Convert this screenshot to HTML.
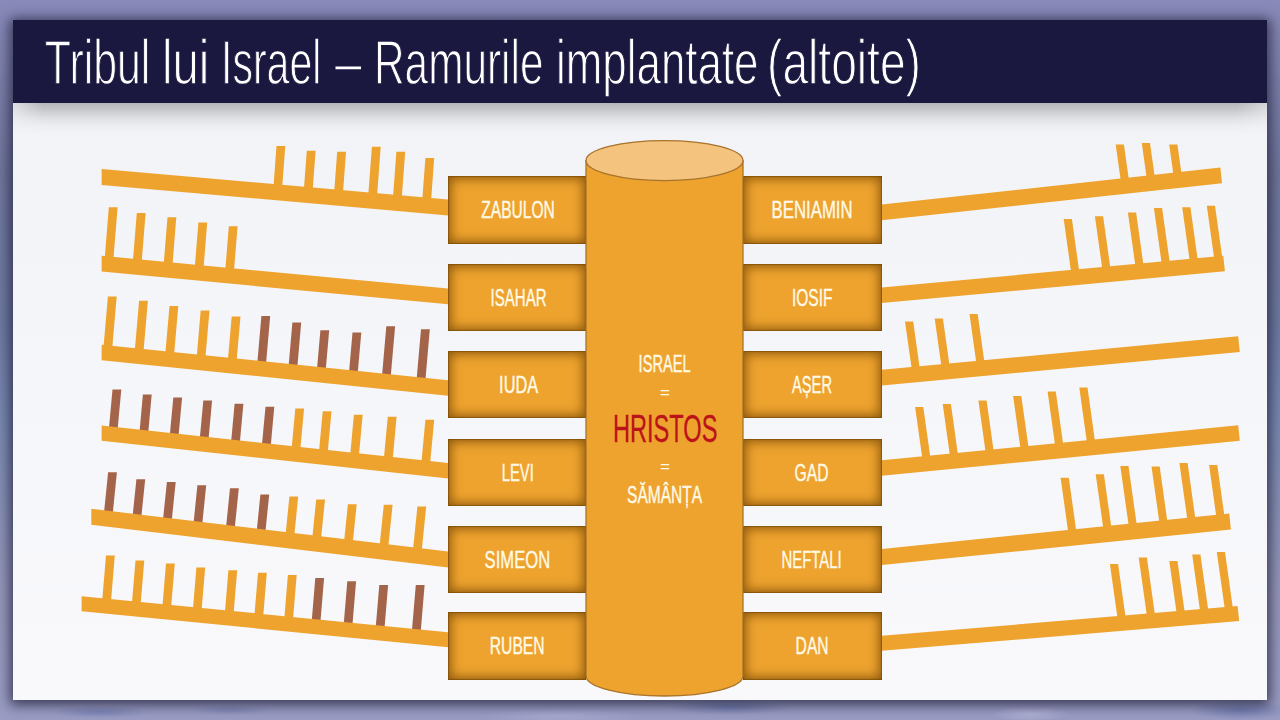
<!DOCTYPE html>
<html><head><meta charset="utf-8">
<style>
html,body{margin:0;padding:0;width:1280px;height:720px;overflow:hidden;background:#8585b0}
#bg{position:absolute;left:0;top:0}
#back{position:absolute;left:0;top:0;width:1280px;height:720px;background:linear-gradient(180deg,#8a8aba 0%,#7a7ea8 12%,#70769c 24%,#6e7aa2 45%,#7888b0 58%,#9597ba 82%,#9a9cc4 100%)}
#clouds{position:absolute;left:0;top:680px;width:1280px;height:40px;background:
radial-gradient(ellipse 50px 6px at 100px 32px, rgba(90,110,170,0.45), rgba(90,110,170,0)),
radial-gradient(ellipse 40px 5px at 230px 30px, rgba(90,110,170,0.35), rgba(90,110,170,0)),
radial-gradient(ellipse 60px 8px at 730px 27px, rgba(80,100,160,0.5), rgba(80,100,160,0)),
radial-gradient(ellipse 50px 10px at 1240px 30px, rgba(80,100,160,0.55), rgba(80,100,160,0)),
radial-gradient(ellipse 40px 8px at 1030px 34px, rgba(200,200,230,0.5), rgba(200,200,230,0)),
radial-gradient(ellipse 80px 8px at 560px 36px, rgba(190,190,225,0.4), rgba(190,190,225,0))}
#panel{position:absolute;left:13px;top:20px;width:1254px;height:680px;background:linear-gradient(180deg,#f1f2f6 0%,#f5f6f9 50%,#f9f9fc 100%);box-shadow:0 2px 12px 3px rgba(25,25,50,0.75)}
.box{position:absolute;background:#eea32e;box-shadow:inset 0 0 11px 3px rgba(108,64,0,0.72), inset 0 0 1px 1px rgba(108,64,0,0.55);}
#fg{position:absolute;left:0;top:0}
text{font-family:"Liberation Sans",sans-serif;}
.bt{font-size:24.6px;fill:#fffae6;text-anchor:middle;stroke:#fffae6;stroke-width:0.4px}
</style></head><body>
<div id="back"></div><div id="clouds"></div><div id="panel"></div>
<svg id="bg" width="1280" height="720" viewBox="0 0 1280 720">
<defs>
<linearGradient id="bgG" x1="0" y1="0" x2="0" y2="1">
<stop offset="0" stop-color="#8888b8"/>
<stop offset="0.5" stop-color="#6f7aa2"/>
<stop offset="1" stop-color="#8e90bc"/>
</linearGradient>
<linearGradient id="panG" x1="0" y1="0" x2="0" y2="1">
<stop offset="0" stop-color="#eff0f5"/>
<stop offset="1" stop-color="#f9f9fc"/>
</linearGradient>
<linearGradient id="tshG" x1="0" y1="0" x2="0" y2="1">
<stop offset="0" stop-color="#000" stop-opacity="0.25"/>
<stop offset="0.25" stop-color="#000" stop-opacity="0.17"/>
<stop offset="0.5" stop-color="#000" stop-opacity="0.08"/>
<stop offset="0.75" stop-color="#000" stop-opacity="0.025"/>
<stop offset="1" stop-color="#000" stop-opacity="0"/>
</linearGradient>
<linearGradient id="cornL" x1="0" y1="0" x2="1" y2="0">
<stop offset="0" stop-color="#f1f2f6" stop-opacity="0.65"/>
<stop offset="1" stop-color="#f1f2f6" stop-opacity="0"/>
</linearGradient>
<linearGradient id="cornR" x1="1" y1="0" x2="0" y2="0">
<stop offset="0" stop-color="#f1f2f6" stop-opacity="0.5"/>
<stop offset="1" stop-color="#f1f2f6" stop-opacity="0"/>
</linearGradient>
<filter id="blur8" x="-10%" y="-10%" width="120%" height="120%"><feGaussianBlur stdDeviation="6"/></filter>
</defs>
<rect x="13" y="103" width="1254" height="30" fill="url(#tshG)"/>
<rect x="13" y="103" width="30" height="30" fill="url(#cornL)"/>
<rect x="1237" y="103" width="30" height="30" fill="url(#cornR)"/>
<rect x="13" y="20" width="1254" height="83" fill="#1b1840"/>
<text x="44.8" y="83.5" textLength="105.6" lengthAdjust="spacingAndGlyphs" style="font-size:63.5px;fill:#ffffff;stroke:#1b1840;stroke-width:1.3px">Tribul</text><text x="162.0" y="83.5" textLength="47.4" lengthAdjust="spacingAndGlyphs" style="font-size:63.5px;fill:#ffffff;stroke:#1b1840;stroke-width:1.3px">lui</text><text x="221.0" y="83.5" textLength="100.4" lengthAdjust="spacingAndGlyphs" style="font-size:63.5px;fill:#ffffff;stroke:#1b1840;stroke-width:1.3px">Israel</text><text x="335.0" y="83.5" textLength="26.5" lengthAdjust="spacingAndGlyphs" style="font-size:63.5px;fill:#ffffff;stroke:#1b1840;stroke-width:1.3px">–</text><text x="374.0" y="83.5" textLength="169.5" lengthAdjust="spacingAndGlyphs" style="font-size:63.5px;fill:#ffffff;stroke:#1b1840;stroke-width:1.3px">Ramurile</text><text x="556.0" y="83.5" textLength="202.5" lengthAdjust="spacingAndGlyphs" style="font-size:63.5px;fill:#ffffff;stroke:#1b1840;stroke-width:1.3px">implantate</text><text x="767.0" y="83.5" textLength="154.0" lengthAdjust="spacingAndGlyphs" style="font-size:63.5px;fill:#ffffff;stroke:#1b1840;stroke-width:1.3px">(altoite)</text>
<polygon points="276.5,145.9 285.3,145.9 282.2,187.1 273.5,186.3" fill="#eea32e"/>
<polygon points="306.8,150.8 315.6,150.8 312.7,189.8 303.9,189.0" fill="#eea32e"/>
<polygon points="337.2,151.7 346.0,151.7 343.0,192.4 334.2,191.7" fill="#eea32e"/>
<polygon points="371.9,146.8 380.7,146.8 377.1,195.5 368.3,194.7" fill="#eea32e"/>
<polygon points="396.4,151.7 405.2,151.7 401.8,197.6 393.0,196.9" fill="#eea32e"/>
<polygon points="425.4,158.0 434.2,158.0 431.1,200.2 422.3,199.4" fill="#eea32e"/>
<polygon points="101.6,169.0 448.0,199.4 448.0,215.4 101.6,185.0" fill="#eea32e"/>
<polygon points="108.8,207.2 117.6,207.2 113.4,259.3 104.7,258.5" fill="#eea32e"/>
<polygon points="136.8,213.0 145.6,213.0 141.7,262.0 132.9,261.1" fill="#eea32e"/>
<polygon points="167.5,217.3 176.3,217.3 172.5,264.9 163.7,264.0" fill="#eea32e"/>
<polygon points="198.4,222.5 207.2,222.5 203.6,267.8 194.8,267.0" fill="#eea32e"/>
<polygon points="228.8,226.3 237.6,226.3 234.0,270.7 225.3,269.8" fill="#eea32e"/>
<polygon points="101.6,255.8 448.0,288.6 448.0,304.3 101.6,271.5" fill="#eea32e"/>
<polygon points="107.9,296.4 116.7,296.4 112.2,348.2 103.5,347.3" fill="#eea32e"/>
<polygon points="139.1,300.7 147.9,300.7 143.5,351.4 134.8,350.5" fill="#eea32e"/>
<polygon points="169.5,305.9 178.3,305.9 174.1,354.6 165.3,353.7" fill="#eea32e"/>
<polygon points="200.7,310.5 209.5,310.5 205.4,357.8 196.7,356.9" fill="#eea32e"/>
<polygon points="231.7,316.6 240.5,316.6 236.6,360.9 227.9,360.0" fill="#eea32e"/>
<polygon points="261.4,316.0 270.2,316.0 266.0,364.0 257.3,363.1" fill="#a4644a"/>
<polygon points="292.4,322.4 301.2,322.4 297.3,367.2 288.6,366.3" fill="#a4644a"/>
<polygon points="320.4,330.2 329.2,330.2 325.7,370.0 317.0,369.1" fill="#a4644a"/>
<polygon points="352.5,332.5 361.3,332.5 357.7,373.3 349.0,372.4" fill="#a4644a"/>
<polygon points="386.3,326.2 395.1,326.2 390.7,376.8 382.0,375.9" fill="#a4644a"/>
<polygon points="421.0,329.3 429.8,329.3 425.4,380.3 416.6,379.4" fill="#a4644a"/>
<polygon points="101.6,344.7 448.0,380.2 448.0,395.7 101.6,360.2" fill="#eea32e"/>
<polygon points="112.5,389.4 121.3,389.4 117.6,429.6 108.9,428.7" fill="#a4644a"/>
<polygon points="142.9,394.6 151.7,394.6 148.2,432.9 139.5,432.0" fill="#a4644a"/>
<polygon points="173.3,397.5 182.1,397.5 178.5,436.2 169.8,435.3" fill="#a4644a"/>
<polygon points="203.3,400.4 212.1,400.4 208.5,439.5 199.8,438.5" fill="#a4644a"/>
<polygon points="234.6,403.8 243.4,403.8 239.8,442.9 231.1,441.9" fill="#a4644a"/>
<polygon points="265.5,406.7 274.3,406.7 270.7,446.2 261.9,445.3" fill="#a4644a"/>
<polygon points="295.3,408.5 304.1,408.5 300.3,449.5 291.6,448.5" fill="#eea32e"/>
<polygon points="322.7,411.3 331.5,411.3 327.7,452.5 319.0,451.5" fill="#eea32e"/>
<polygon points="353.9,414.8 362.7,414.8 358.9,455.8 350.2,454.9" fill="#eea32e"/>
<polygon points="387.8,416.8 396.6,416.8 392.7,459.5 383.9,458.6" fill="#eea32e"/>
<polygon points="425.4,419.7 434.2,419.7 430.1,463.6 421.4,462.6" fill="#eea32e"/>
<polygon points="101.6,425.5 448.0,463.1 448.0,478.4 101.6,440.8" fill="#eea32e"/>
<polygon points="108.1,472.2 116.9,472.2 112.7,513.9 104.0,512.8" fill="#a4644a"/>
<polygon points="136.4,479.2 145.2,479.2 141.3,517.2 132.6,516.2" fill="#a4644a"/>
<polygon points="166.9,481.9 175.7,481.9 171.7,520.9 163.0,519.8" fill="#a4644a"/>
<polygon points="197.4,485.3 206.2,485.3 202.2,524.5 193.5,523.5" fill="#a4644a"/>
<polygon points="230.0,488.3 238.8,488.3 234.7,528.4 226.0,527.4" fill="#a4644a"/>
<polygon points="260.4,494.4 269.2,494.4 265.4,532.0 256.7,531.0" fill="#a4644a"/>
<polygon points="289.4,496.6 298.2,496.6 294.3,535.5 285.6,534.5" fill="#eea32e"/>
<polygon points="316.2,499.6 325.0,499.6 321.0,538.7 312.3,537.7" fill="#eea32e"/>
<polygon points="347.9,504.2 356.7,504.2 352.8,542.5 344.1,541.4" fill="#eea32e"/>
<polygon points="383.8,504.8 392.6,504.8 388.3,546.8 379.6,545.7" fill="#eea32e"/>
<polygon points="417.4,506.6 426.2,506.6 421.7,550.8 413.0,549.7" fill="#eea32e"/>
<polygon points="91.3,508.8 448.0,551.4 448.0,567.4 91.3,524.8" fill="#eea32e"/>
<polygon points="106.0,555.4 114.8,555.4 111.0,601.5 102.2,600.6" fill="#eea32e"/>
<polygon points="135.5,560.5 144.3,560.5 140.6,604.4 131.9,603.5" fill="#eea32e"/>
<polygon points="166.0,563.6 174.8,563.6 171.1,607.4 162.4,606.5" fill="#eea32e"/>
<polygon points="196.4,567.6 205.2,567.6 201.6,610.3 192.9,609.5" fill="#eea32e"/>
<polygon points="228.4,570.3 237.2,570.3 233.6,613.5 224.9,612.6" fill="#eea32e"/>
<polygon points="258.0,572.7 266.8,572.7 263.2,616.4 254.4,615.5" fill="#eea32e"/>
<polygon points="287.9,574.9 296.7,574.9 293.0,619.3 284.3,618.5" fill="#eea32e"/>
<polygon points="315.3,577.9 324.1,577.9 320.4,622.0 311.7,621.2" fill="#a4644a"/>
<polygon points="347.3,581.3 356.1,581.3 352.4,625.2 343.7,624.3" fill="#a4644a"/>
<polygon points="379.3,584.9 388.1,584.9 384.5,628.3 375.7,627.5" fill="#a4644a"/>
<polygon points="415.8,584.9 424.6,584.9 420.7,631.9 411.9,631.0" fill="#a4644a"/>
<polygon points="81.6,596.2 448.0,632.2 448.0,647.2 81.6,611.2" fill="#eea32e"/>
<polygon points="1115.7,144.5 1123.9,144.5 1128.9,180.1 1120.8,181.0" fill="#eea32e"/>
<polygon points="1141.8,143.0 1150.0,143.0 1154.8,177.3 1146.7,178.2" fill="#eea32e"/>
<polygon points="1169.2,144.5 1177.4,144.5 1181.6,174.3 1173.5,175.2" fill="#eea32e"/>
<polygon points="881.6,204.6 1220.4,167.6 1222.0,183.3 881.6,220.3" fill="#eea32e"/>
<polygon points="1063.7,219.0 1071.9,219.0 1079.3,271.9 1071.2,272.7" fill="#eea32e"/>
<polygon points="1094.9,216.2 1103.1,216.2 1110.5,269.0 1102.4,269.7" fill="#eea32e"/>
<polygon points="1127.9,212.4 1136.1,212.4 1143.6,265.9 1135.5,266.7" fill="#eea32e"/>
<polygon points="1153.9,208.1 1162.1,208.1 1169.9,263.5 1161.8,264.3" fill="#eea32e"/>
<polygon points="1182.2,207.2 1190.4,207.2 1197.9,260.9 1189.8,261.6" fill="#eea32e"/>
<polygon points="1206.8,205.7 1215.0,205.7 1222.4,258.6 1214.3,259.3" fill="#eea32e"/>
<polygon points="881.6,287.6 1223.3,255.8 1224.9,271.3 881.6,303.1" fill="#eea32e"/>
<polygon points="905.0,321.4 913.2,321.4 919.8,368.8 911.8,369.6" fill="#eea32e"/>
<polygon points="934.7,318.4 942.9,318.4 949.6,366.0 941.5,366.8" fill="#eea32e"/>
<polygon points="969.5,314.0 977.7,314.0 984.5,362.8 976.4,363.5" fill="#eea32e"/>
<polygon points="881.9,369.8 1238.2,336.2 1239.8,351.9 881.9,385.5" fill="#eea32e"/>
<polygon points="915.1,406.9 923.3,406.9 930.5,458.2 922.4,459.0" fill="#eea32e"/>
<polygon points="942.7,403.9 950.9,403.9 958.1,455.5 950.0,456.3" fill="#eea32e"/>
<polygon points="978.4,400.4 986.6,400.4 993.8,452.0 985.7,452.8" fill="#eea32e"/>
<polygon points="1013.1,395.9 1021.3,395.9 1028.7,448.6 1020.6,449.4" fill="#eea32e"/>
<polygon points="1047.6,391.4 1055.8,391.4 1063.3,445.2 1055.2,446.0" fill="#eea32e"/>
<polygon points="1079.3,387.6 1087.5,387.6 1095.1,442.1 1087.0,442.9" fill="#eea32e"/>
<polygon points="881.9,460.3 1238.2,425.3 1239.8,440.8 881.9,475.8" fill="#eea32e"/>
<polygon points="1060.6,477.8 1068.8,477.8 1076.4,531.9 1068.3,532.7" fill="#eea32e"/>
<polygon points="1095.7,474.3 1103.9,474.3 1111.5,528.3 1103.4,529.1" fill="#eea32e"/>
<polygon points="1120.3,465.9 1128.5,465.9 1136.9,525.8 1128.8,526.6" fill="#eea32e"/>
<polygon points="1151.5,466.5 1159.7,466.5 1167.5,522.6 1159.5,523.4" fill="#eea32e"/>
<polygon points="1179.4,463.0 1187.6,463.0 1195.5,519.7 1187.5,520.5" fill="#eea32e"/>
<polygon points="1209.1,465.0 1217.3,465.0 1224.5,516.6 1216.4,517.5" fill="#eea32e"/>
<polygon points="881.9,549.1 1229.3,513.4 1230.9,529.4 881.9,565.1" fill="#eea32e"/>
<polygon points="1109.9,563.9 1118.1,563.9 1125.7,618.1 1117.6,618.8" fill="#eea32e"/>
<polygon points="1138.7,557.4 1146.9,557.4 1155.1,615.7 1147.0,616.4" fill="#eea32e"/>
<polygon points="1169.3,561.0 1177.5,561.0 1184.8,613.1 1176.7,613.8" fill="#eea32e"/>
<polygon points="1192.2,554.4 1200.4,554.4 1208.4,611.2 1200.2,611.9" fill="#eea32e"/>
<polygon points="1216.8,552.0 1225.0,552.0 1233.0,609.2 1224.9,609.8" fill="#eea32e"/>
<polygon points="881.9,635.8 1237.6,606.1 1239.2,621.1 881.9,650.8" fill="#eea32e"/>
</svg>
<div class="box" style="left:447.5px;top:176px;width:138.5px;height:67.7px"></div><div class="box" style="left:742.5px;top:176px;width:139.2px;height:67.7px"></div><div class="box" style="left:447.5px;top:264.2px;width:138.5px;height:67.2px"></div><div class="box" style="left:742.5px;top:264.2px;width:139.2px;height:67.2px"></div><div class="box" style="left:447.5px;top:351.4px;width:138.5px;height:66.2px"></div><div class="box" style="left:742.5px;top:351.4px;width:139.2px;height:66.2px"></div><div class="box" style="left:447.5px;top:439.3px;width:138.5px;height:66.5px"></div><div class="box" style="left:742.5px;top:439.3px;width:139.2px;height:66.5px"></div><div class="box" style="left:447.5px;top:525.9px;width:138.5px;height:67.0px"></div><div class="box" style="left:742.5px;top:525.9px;width:139.2px;height:67.0px"></div><div class="box" style="left:447.5px;top:611.7px;width:138.5px;height:68.3px"></div><div class="box" style="left:742.5px;top:611.7px;width:139.2px;height:68.3px"></div>
<svg id="fg" width="1280" height="720" viewBox="0 0 1280 720">
<path d="M586,160.6 L586,676 A78.5,20 0 0 0 743,676 L743,160.6 Z" fill="#eea32e" stroke="#a8732a" stroke-width="1.3"/>
<ellipse cx="664.5" cy="160.6" rx="78.5" ry="20" fill="#f4c47e" stroke="#a8732a" stroke-width="1.3"/>
<text x="518" y="218.2" textLength="73.5" lengthAdjust="spacingAndGlyphs" class="bt">ZABULON</text><text x="812.1" y="218.2" textLength="81" lengthAdjust="spacingAndGlyphs" class="bt">BENIAMIN</text><text x="518.6" y="306.1" textLength="56" lengthAdjust="spacingAndGlyphs" class="bt">ISAHAR</text><text x="812.2" y="306.1" textLength="40.5" lengthAdjust="spacingAndGlyphs" class="bt">IOSIF</text><text x="518.6" y="392.8" textLength="39" lengthAdjust="spacingAndGlyphs" class="bt">IUDA</text><text x="812" y="392.8" textLength="40" lengthAdjust="spacingAndGlyphs" class="bt">AȘER</text><text x="517.8" y="480.9" textLength="32" lengthAdjust="spacingAndGlyphs" class="bt">LEVI</text><text x="811.6" y="480.9" textLength="34" lengthAdjust="spacingAndGlyphs" class="bt">GAD</text><text x="517.4" y="567.7" textLength="65.6" lengthAdjust="spacingAndGlyphs" class="bt">SIMEON</text><text x="811.6" y="567.7" textLength="60" lengthAdjust="spacingAndGlyphs" class="bt">NEFTALI</text><text x="517.2" y="654.1" textLength="54.8" lengthAdjust="spacingAndGlyphs" class="bt">RUBEN</text><text x="812.1" y="654.1" textLength="33" lengthAdjust="spacingAndGlyphs" class="bt">DAN</text>
<text x="664.6" y="372.2" textLength="52" lengthAdjust="spacingAndGlyphs" class="bt">ISRAEL</text>
<text x="665" y="398" class="bt" style="font-size:17px;stroke-width:0">=</text>
<text x="665.2" y="442" textLength="104.5" lengthAdjust="spacingAndGlyphs" style="font-size:38px;fill:#bc1219;text-anchor:middle;stroke:#bc1219;stroke-width:0.3px">HRISTOS</text>
<text x="665" y="472" class="bt" style="font-size:17px;stroke-width:0">=</text>
<text x="664.6" y="502.5" textLength="75" lengthAdjust="spacingAndGlyphs" class="bt">SĂMÂNȚA</text>
</svg>
</body></html>
